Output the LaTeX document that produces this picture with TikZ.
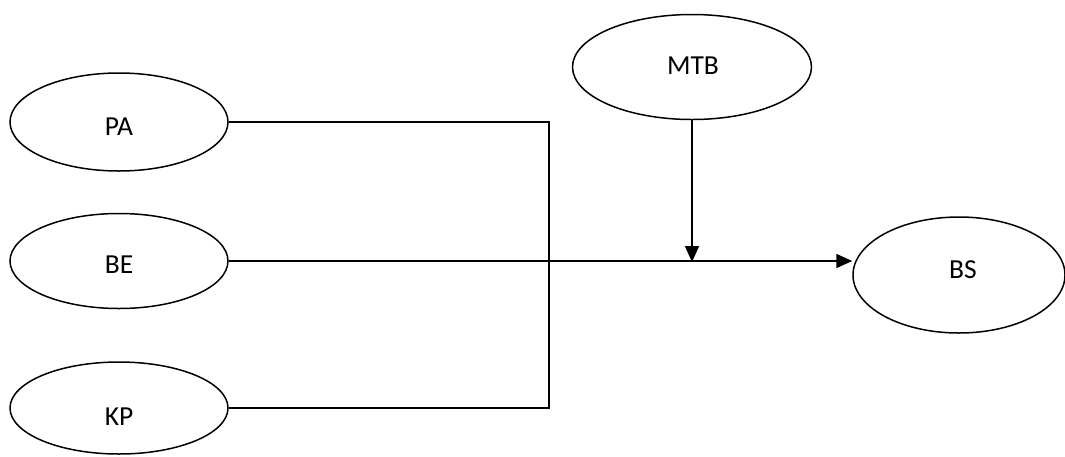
\documentclass[tikz,border=0pt]{standalone}
\usepackage{fontspec}
\setmainfont{Carlito}
\usetikzlibrary{shapes.geometric,arrows.meta}
\begin{document}
\begin{tikzpicture}[x=1pt,y=-1pt,
  ell/.style={draw,ellipse,line width=1.5pt,inner sep=0pt},
  lbl/.style={font=\fontsize{27.5}{32}\selectfont,inner sep=0pt},
  wire/.style={line width=1.4pt},
  arr/.style={line width=1.8pt,-{Triangle[length=16pt,width=14pt]}}]
\useasboundingbox (0,0) rectangle (1065,456);
% variables
\node[ell,minimum width=218pt,minimum height=98pt] (pa) at (119,122) {};
\node[ell,minimum width=218pt,minimum height=95pt] (be) at (119,261) {};
\node[ell,minimum width=218pt,minimum height=92pt] (kp) at (119,408) {};
\node[ell,minimum width=239pt,minimum height=105pt] (mtb) at (692,67) {};
\node[ell,minimum width=212pt,minimum height=116pt] (bs) at (959,275) {};
\node[lbl] (tpa) at (119,127) {PA};
\node[lbl] (tbe) at (119,265) {BE};
\node[lbl] (tkp) at (119,417) {KP};
\node[lbl] (tmtb) at (693,66) {MTB};
\node[lbl] (tbs) at (963,270) {BS};
% junctions
\coordinate (j) at (549,262);
\coordinate (m) at (692,262);
% connectors
\draw[wire] (pa.east) -| (j);
\draw[wire] (kp.east) -| (j);
\draw[arr] (be.east) -- (be.east -| bs.west);
\draw[arr] (mtb.south) -- (m);
\end{tikzpicture}
\end{document}
